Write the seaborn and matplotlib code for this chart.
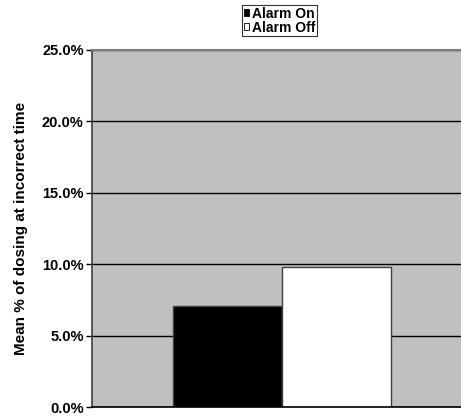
import matplotlib
matplotlib.use("Agg")
import matplotlib.pyplot as plt
import seaborn as sns
import pandas as pd
from matplotlib.ticker import FuncFormatter
from matplotlib.patches import Patch

conditions = ["Alarm On", "Alarm Off"]
mean_pct = [7.1, 9.8]
bar_colors = ["#000000", "#ffffff"]
y_ticks = [0, 5, 10, 15, 20, 25]

df = pd.DataFrame({"group": [""] * len(conditions), "condition": conditions, "pct": mean_pct})

sns.set_style("white")
plt.rcParams["font.family"] = ["Liberation Sans", "DejaVu Sans"]
plt.rcParams["font.weight"] = "bold"
plt.rcParams["text.color"] = "black"
plt.rcParams["axes.labelcolor"] = "black"
plt.rcParams["ytick.color"] = "black"

fig = plt.figure(figsize=(4.61, 4.16), dpi=100)
W, H = 461, 416
ax = fig.add_axes([92 / W, 1 - 407.3 / H, (472 - 92) / W, (407.3 - 50) / H])
ax.set_facecolor("#c0c0c0")

sns.barplot(data=df, x="group", y="pct", hue="condition", hue_order=conditions,
            palette=bar_colors, width=0.572, edgecolor="#404040", linewidth=1.0,
            ax=ax, legend=False, saturation=1)

ax.set_ylim(0, 25)
ax.set_xlim(-0.5, 0.5)
ax.set_yticks(y_ticks)
ax.yaxis.set_major_formatter(FuncFormatter(lambda v, p: f"{v:.1f}%"))
ax.tick_params(axis="y", length=4, width=1, color="black", labelcolor="black",
               labelsize=10.5, pad=2, left=True)
ax.tick_params(axis="x", length=0, labelbottom=False)
for lbl in ax.get_yticklabels():
    lbl.set_fontweight("bold")
ax.set_xlabel("")
ax.set_ylabel("Mean % of dosing at incorrect time", fontsize=11, fontweight="bold",
              color="black", labelpad=10)

ax.yaxis.grid(True, color="black", linewidth=1)
ax.set_axisbelow(True)
for name, sp in ax.spines.items():
    sp.set_visible(False)
ax.spines["left"].set_visible(True)
ax.spines["left"].set_color("#404040")
ax.spines["left"].set_linewidth(1.2)
ax.spines["bottom"].set_visible(True)
ax.spines["bottom"].set_color("black")
ax.spines["bottom"].set_linewidth(1.2)
ax.spines["top"].set_visible(True)
ax.spines["top"].set_color("#808080")
ax.spines["top"].set_linewidth(1.5)

handles = [Patch(facecolor=c, edgecolor="black", linewidth=0.6) for c in bar_colors]
leg = fig.legend(handles, conditions, loc="upper center", bbox_to_anchor=(279.5 / W, 1 - 5 / H),
                 frameon=True, fancybox=False, edgecolor="black", handlelength=0.4,
                 handleheight=0.4, handletextpad=0.2, borderpad=0.12, labelspacing=0.0,
                 prop={"size": 10, "weight": "bold"}, borderaxespad=0)
leg.get_frame().set_linewidth(0.8)
for t in leg.get_texts():
    t.set_color("black")

fig.savefig("out.png", dpi=100)
